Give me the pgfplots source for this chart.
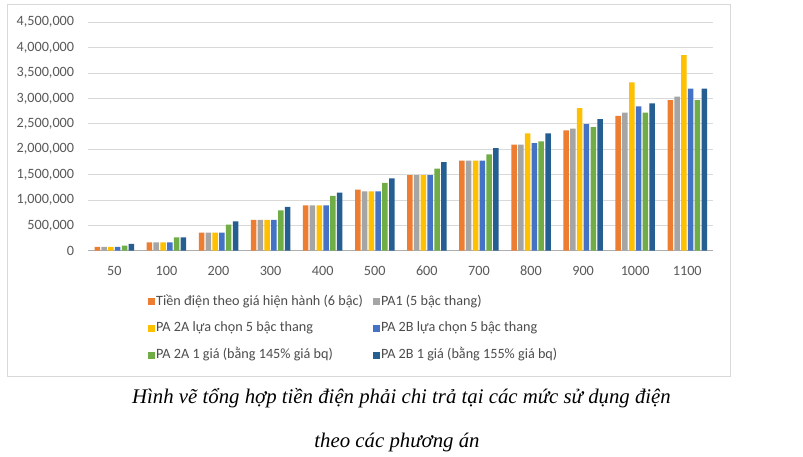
\documentclass[border=0pt]{standalone}
\usepackage{fontspec}
\setmainfont{Carlito}
\newfontfamily\capfont{Liberation Serif}
\usepackage{pgfplots}
\usepackage{pgfplotstable}
\pgfplotsset{compat=1.18}

\definecolor{cOrange}{HTML}{ED7D31}
\definecolor{cGray}{HTML}{A5A5A5}
\definecolor{cYellow}{HTML}{FFC000}
\definecolor{cBlue}{HTML}{4472C4}
\definecolor{cGreen}{HTML}{70AD47}
\definecolor{cDark}{HTML}{255E91}
\definecolor{gridc}{HTML}{D9D9D9}
\definecolor{textc}{HTML}{595959}

% kWh levels, bills (VND) for each option
\pgfplotstableread{
x kwh hh pa1 pa2a pa2b pa2aone pa2bone
0 50 73000 73000 73000 73000 98000 132000
1 100 165000 165000 165000 165000 260000 262000
2 200 355000 355000 355000 355000 512000 579000
3 300 605000 605000 605000 605000 795000 861000
4 400 894000 894000 894000 894000 1078000 1143000
5 500 1202000 1170000 1170000 1170000 1334000 1426000
6 600 1491000 1491000 1491000 1491000 1616000 1747000
7 700 1773000 1773000 1773000 1773000 1899000 2023000
8 800 2088000 2088000 2312000 2121000 2155000 2312000
9 900 2372000 2404000 2811000 2496000 2437000 2594000
10 1000 2654000 2719000 3317000 2844000 2719000 2903000
11 1100 2969000 3034000 3855000 3191000 2969000 3191000
}\datatable

\begin{document}
\begin{tikzpicture}[x=1pt,y=1pt]
\path[use as bounding box] (0,0) rectangle (803,457);
\fill[white] (0,0) rectangle (803,457);
\draw[gridc, line width=1pt] (7,80) rectangle (730,452);
\begin{axis}[
    at={(88.3pt,206.3pt)}, anchor=south west,
    scale only axis,
    width=625pt, height=228.4pt,
    ybar=1.3pt, bar width=5.5pt,
    xmin=-0.5, xmax=11.5,
    ymin=0, ymax=4500000,
    xtick=data,
    xticklabels={50,100,200,300,400,500,600,700,800,900,1000,1100},
    ytick={0,500000,...,4500000},
    scaled y ticks=false,
    /pgf/number format/fixed,
    /pgf/number format/1000 sep={,},
    /pgf/number format/assume math mode=true,
    tick label style={font=\fontsize{14.2}{17}\selectfont, text=textc},
    every y tick label/.append style={inner sep=0pt, xshift=-14pt},
    every x tick label/.append style={inner sep=0pt, yshift=-15pt},
    major tick length=0pt,
    ymajorgrids, grid style={gridc, line width=0.8pt},
    axis x line*=bottom,
    axis y line*=left,
    y axis line style={draw=none},
    x axis line style={draw=gridc!80!black, line width=0.8pt, -},
    legend columns=2,
    legend cell align=left,
    legend style={draw=none, fill=none, at={(0.0907,-0.181)}, anchor=north west,
        font=\fontsize{14.2}{17}\selectfont, text=textc!85!black,
        nodes={inner sep=1pt, text height=10pt, text depth=3pt},
        row sep=11.7pt,
        /tikz/every even column/.append style={column sep=9pt}},
    legend image code/.code={\fill[#1] (0pt,-3.5pt) rectangle (7pt,3.5pt);},
]
\addplot[fill=cOrange, draw=none] table[x=x, y=hh]{\datatable};
\addplot[fill=cGray, draw=none] table[x=x, y=pa1]{\datatable};
\addplot[fill=cYellow, draw=none] table[x=x, y=pa2a]{\datatable};
\addplot[fill=cBlue, draw=none] table[x=x, y=pa2b]{\datatable};
\addplot[fill=cGreen, draw=none] table[x=x, y=pa2aone]{\datatable};
\addplot[fill=cDark, draw=none] table[x=x, y=pa2bone]{\datatable};
\legend{Tiền điện theo giá hiện hành (6 bậc), PA1 (5 bậc thang), PA 2A lựa chọn 5 bậc thang, PA 2B lựa chọn 5 bậc thang, PA 2A 1 giá (bằng 145\% giá bq), PA 2B 1 giá (bằng 155\% giá bq)}
\end{axis}
\node[font=\capfont\itshape\fontsize{20.8}{24}\selectfont] at (401.5,59) {Hình vẽ tổng hợp tiền điện phải chi trả tại các mức sử dụng điện};
\node[font=\capfont\itshape\fontsize{20.8}{24}\selectfont] at (397,15) {theo các phương án};
\end{tikzpicture}
\end{document}
